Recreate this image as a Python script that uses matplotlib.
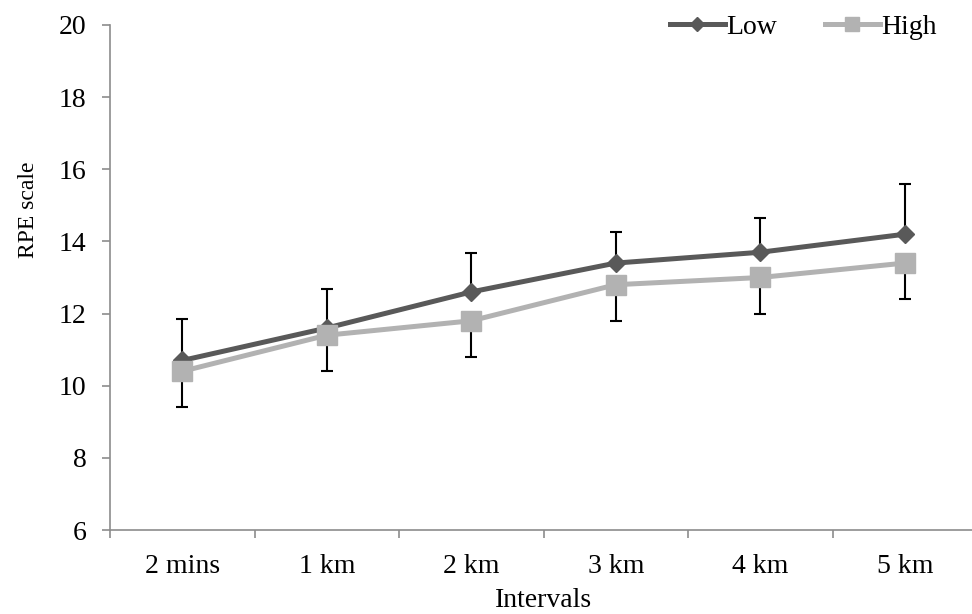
import numpy as np
import matplotlib
matplotlib.use("Agg")
import matplotlib.pyplot as plt
from matplotlib.ticker import FixedLocator

plt.rcParams['font.family'] = ['Liberation Serif', 'DejaVu Serif']

# data
intervals = ["2 mins", "1 km", "2 km", "3 km", "4 km", "5 km"]
low_mean = [10.7, 11.6, 12.6, 13.4, 13.7, 14.2]
low_err = [1.15, 1.07, 1.08, 0.85, 0.95, 1.4]
high_mean = [10.4, 11.4, 11.8, 12.8, 13.0, 13.4]
high_err = [1.0, 1.0, 1.0, 1.0, 1.0, 1.0]

c_low = '#595959'
c_high = '#b2b2b2'
axis_gray = '#8c8c8c'

fig = plt.figure(figsize=(9.72, 6.14), dpi=100)
ax = fig.add_axes([0.1132, 0.1368, 0.892, 0.8225])

x = np.arange(len(intervals))

# error bars: Low goes up, High goes down
ax.errorbar(x, low_mean, yerr=[np.zeros(len(x)), low_err], fmt='none',
            ecolor='black', elinewidth=1.5, capsize=4, capthick=1.5, zorder=2)
ax.errorbar(x, high_mean, yerr=[high_err, np.zeros(len(x))], fmt='none',
            ecolor='black', elinewidth=1.5, capsize=4, capthick=1.5, zorder=2)

ax.plot(x, low_mean, '-', color=c_low, linewidth=3.6, marker='D',
        markersize=9.5, label="Low", zorder=3)
ax.plot(x, high_mean, '-', color=c_high, linewidth=3.6, marker='s',
        markersize=14, label="High", zorder=4)

ax.set_xlim(-0.5, len(intervals) - 0.5)
ax.set_ylim(6, 20)
ax.set_yticks(np.arange(6, 21, 2))
ax.set_xticks(x)
ax.set_xticklabels(intervals)
ax.xaxis.set_minor_locator(FixedLocator(np.arange(-0.5, len(intervals), 1.0)))
ax.tick_params(axis='x', which='major', length=0, pad=17, labelsize=20)
ax.tick_params(axis='x', which='minor', length=6, width=1.2, color=axis_gray, direction='out')
ax.tick_params(axis='y', length=6, width=1.2, color=axis_gray, direction='out', labelsize=20, pad=11)

for s in ['top', 'right']:
    ax.spines[s].set_visible(False)
for s in ['left', 'bottom']:
    ax.spines[s].set_color(axis_gray)
    ax.spines[s].set_linewidth(1.2)

ax.set_xlabel("Intervals", fontsize=20, labelpad=7)
ax.set_ylabel("RPE scale", fontsize=17)
ax.yaxis.set_label_coords(-0.082, 0.634)

fig.legend(loc='upper right', bbox_to_anchor=(0.964, 0.977), ncol=2, frameon=False,
           fontsize=20, handlelength=2.0, handletextpad=0.05, columnspacing=1.7,
           markerscale=0.72, borderpad=0, borderaxespad=0)

plt.savefig("out.png", dpi=100)
